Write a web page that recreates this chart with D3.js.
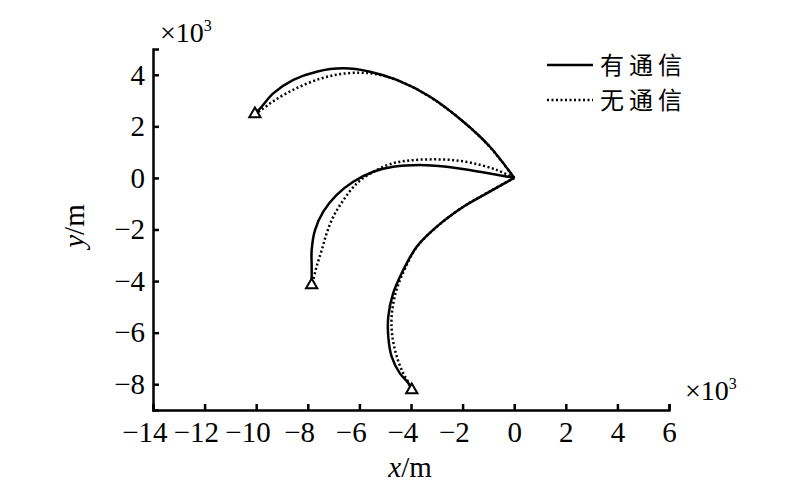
<!DOCTYPE html>
<html>
<head>
<meta charset="utf-8">
<script src="https://cdn.jsdelivr.net/npm/d3@7"></script>
<style>
  body { margin: 0; background: #fff; }
  svg { display: block; }
</style>
</head>
<body>
<div id="chart"></div>
<script>
// trajectories, in units of 10^3 m
var seriesNames = ["有通信", "无通信"];

// with communication (solid)
var withComm1 = [[0,0],[-0.94,1.21],[-1.97,2.18],[-3.26,3.15],[-4.55,3.80],[-5.59,4.12],[-6.62,4.25],[-7.66,4.12],[-8.56,3.80],[-9.34,3.28],[-9.79,2.76],[-10.05,2.48]];
var withComm2 = [[0,0],[-1.33,0.24],[-2.62,0.43],[-3.65,0.50],[-4.69,0.43],[-5.46,0.24],[-6.24,-0.15],[-6.88,-0.66],[-7.40,-1.31],[-7.72,-2.02],[-7.85,-2.80],[-7.85,-3.44],[-7.85,-4.15]];
var withComm3 = [[0,0],[-1.07,-0.60],[-1.97,-1.12],[-3.0,-1.89],[-3.78,-2.67],[-4.30,-3.57],[-4.69,-4.47],[-4.88,-5.38],[-4.88,-6.16],[-4.75,-6.93],[-4.43,-7.58],[-4.10,-7.96],[-3.97,-8.22]];

// without communication (dotted)
var noComm1 = [[0,0],[-0.9,1.15],[-1.9,2.12],[-3.2,3.1],[-4.5,3.78],[-5.4,4.03],[-6.0,4.08],[-6.8,4.02],[-7.6,3.82],[-8.5,3.45],[-9.3,3.0],[-9.8,2.64],[-10.05,2.48]];
var noComm2 = [[0,0],[-0.68,0.31],[-1.59,0.57],[-2.36,0.69],[-3.14,0.72],[-3.91,0.69],[-4.69,0.57],[-5.46,0.24],[-6.10,-0.21],[-6.62,-0.86],[-7.01,-1.50],[-7.27,-2.15],[-7.46,-2.80],[-7.66,-3.44],[-7.79,-3.96],[-7.85,-4.15]];
var noComm3 = [[0,0],[-1.05,-0.58],[-1.95,-1.10],[-2.97,-1.87],[-3.75,-2.65],[-4.25,-3.55],[-4.60,-4.47],[-4.75,-5.38],[-4.72,-6.16],[-4.55,-6.93],[-4.30,-7.58],[-4.08,-7.96],[-3.97,-8.22]];

// end points (triangles)
var targets = [[-10.05,2.48],[-7.85,-4.15],[-3.97,-8.22]];

var xTicks = [-14,-12,-10,-8,-6,-4,-2,0,2,4,6];
var yTicks = [-8,-6,-4,-2,0,2,4];

var width = 800, height = 499;
var serif = "'Liberation Serif','Times New Roman',serif";

var svg = d3.select("#chart").append("svg")
  .attr("width", width)
  .attr("height", height);

var x = d3.scaleLinear().domain([-14, 6]).range([153, 669]);
var y = d3.scaleLinear().domain([-9, 5]).range([410, 49]);

var xAxis = svg.append("g")
  .attr("transform", "translate(0,410)")
  .call(d3.axisBottom(x).tickValues(xTicks).tickSize(-6).tickPadding(11).tickFormat(d3.format("d")));

var yAxis = svg.append("g")
  .attr("transform", "translate(153,0)")
  .call(d3.axisLeft(y).tickValues(yTicks).tickSize(-6).tickPadding(8).tickFormat(d3.format("d")));

[xAxis, yAxis].forEach(function (g) {
  g.selectAll("path, line").attr("stroke", "#000").attr("stroke-width", 2.5);
  g.selectAll("text")
    .attr("fill", "#000")
    .style("font-family", serif)
    .style("font-size", "29px");
});
// keep digits centred on the tick, minus sign hangs left
xAxis.selectAll("text").attr("dx", function (d) { return d < 0 ? "-0.3em" : 0; });

var line = d3.line()
  .x(function (d) { return x(d[0]); })
  .y(function (d) { return y(d[1]); })
  .curve(d3.curveCatmullRom);

[noComm1, noComm2, noComm3].forEach(function (s) {
  svg.append("path")
    .datum(s)
    .attr("d", line)
    .attr("fill", "none")
    .attr("stroke", "#000")
    .attr("stroke-width", 2.5)
    .attr("stroke-dasharray", "2,2.5");
});

[withComm1, withComm2, withComm3].forEach(function (s) {
  svg.append("path")
    .datum(s)
    .attr("d", line)
    .attr("fill", "none")
    .attr("stroke", "#000")
    .attr("stroke-width", 2.5);
});

svg.selectAll(".target")
  .data(targets)
  .enter()
    .append("path")
    .attr("class", "target")
    .attr("d", d3.symbol().type(d3.symbolTriangle).size(55))
    .attr("transform", function (d) { return "translate(" + x(d[0]) + "," + y(d[1]) + ")"; })
    .attr("fill", "#fff")
    .attr("stroke", "#000")
    .attr("stroke-width", 2);

// x10^3 multipliers
function multiplier(px, py) {
  var t = svg.append("text")
    .attr("x", px).attr("y", py)
    .style("font-family", serif)
    .style("font-size", "28px");
  t.append("tspan").text("×10");
  t.append("tspan").attr("dy", -11).style("font-size", "16px").text("3");
}
multiplier(160, 42);
multiplier(685, 400);

// axis titles
var xt = svg.append("text")
  .attr("x", 410).attr("y", 477)
  .attr("text-anchor", "middle")
  .style("font-family", serif)
  .style("font-size", "29px");
xt.append("tspan").style("font-style", "italic").text("x");
xt.append("tspan").text("/m");

var yt = svg.append("text")
  .attr("transform", "translate(84,226) rotate(-90)")
  .attr("text-anchor", "middle")
  .style("font-family", serif)
  .style("font-size", "29px");
yt.append("tspan").style("font-style", "italic").text("y");
yt.append("tspan").text("/m");

// legend
var legend = svg.append("g");
seriesNames.forEach(function (name, i) {
  var ly = 65 + i * 35;
  legend.append("line")
    .attr("x1", 547).attr("x2", 593)
    .attr("y1", ly).attr("y2", ly)
    .attr("stroke", "#000")
    .attr("stroke-width", 2.5)
    .attr("stroke-dasharray", i === 1 ? "2,2.5" : null);
  legend.append("text")
    .attr("x", 600).attr("y", ly + 9)
    .style("font-family", "'Noto Sans CJK SC', sans-serif")
    .style("font-size", "24px")
    .style("letter-spacing", "5px")
    .text(name);
});
</script>
</body>
</html>
